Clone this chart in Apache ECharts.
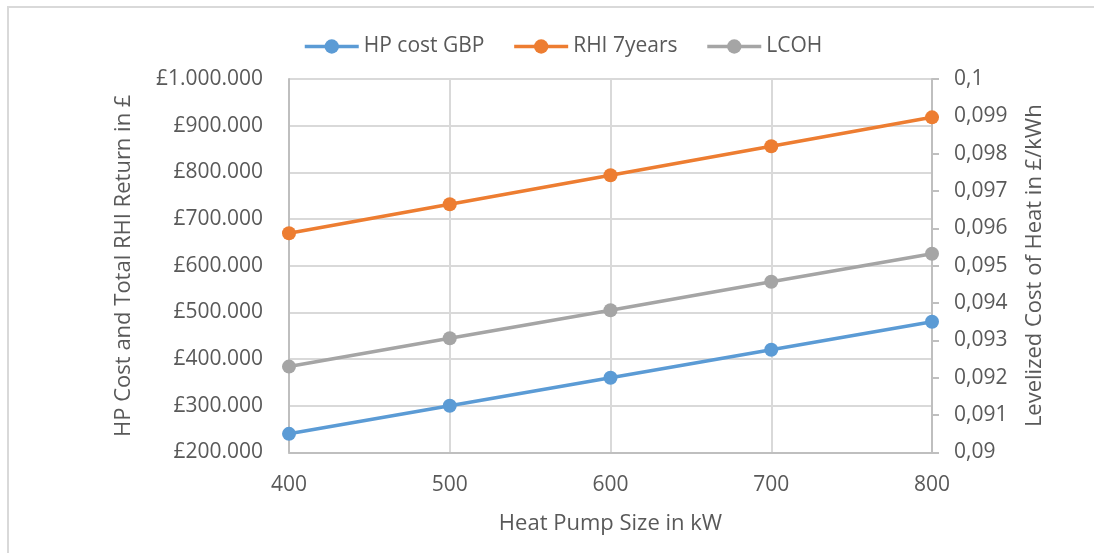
<!DOCTYPE html>
<html>
<head>
<meta charset="utf-8">
<script src="https://cdn.jsdelivr.net/npm/echarts@6/dist/echarts.min.js"></script>
<style>
  html, body { margin: 0; padding: 0; background: #ffffff; }
  #chart { width: 1094px; height: 553px; }
</style>
</head>
<body>
<div id="chart"></div>
<script>
// Heat pump sizes (kW)
const sizes = [400, 500, 600, 700, 800];
// Heat pump capital cost in GBP
const hpCost = [240000, 300000, 360000, 420000, 480000];
// Total RHI return over 7 years in GBP
const rhi7years = [669500, 731600, 793700, 855800, 917900];
// Levelized cost of heat in £/kWh
const lcoh = [0.0923, 0.09306, 0.09381, 0.09457, 0.09532];

const seriesNames = ['HP cost GBP', 'RHI 7years', 'LCOH'];
const seriesColors = ['#5B9BD5', '#ED7D31', '#A5A5A5'];

const FONT = 'Open Sans';
const TXT = '#595959';

const pair = (xs, ys) => xs.map((x, i) => [x, ys[i]]);

function fmtPounds(v) {
  return '£' + Math.round(v).toString().replace(/\B(?=(\d{3})+(?!\d))/g, '.');
}
function fmtComma(v) {
  return (Math.round(v * 1000) / 1000).toString().replace('.', ',');
}

const chart = echarts.init(document.getElementById('chart'), null, { renderer: 'canvas' });

const lineSeries = (idx, data, yAxisIndex) => ({
  name: seriesNames[idx],
  type: 'line',
  yAxisIndex,
  data,
  symbol: 'circle',
  symbolSize: 14,
  itemStyle: { color: seriesColors[idx] },
  lineStyle: { color: seriesColors[idx], width: 3.5 },
  emphasis: { disabled: true },
  animation: false
});

chart.setOption({
  backgroundColor: '#ffffff',
  animation: false,
  textStyle: { fontFamily: FONT },
  graphic: [{
    type: 'rect',
    shape: { x: 8, y: 7, width: 1200, height: 700 },
    style: { fill: 'none', stroke: '#d9d9d9', lineWidth: 2 },
    silent: true
  }],
  legend: {
    top: 31,
    left: 298,
    itemWidth: 54,
    itemHeight: 18,
    itemGap: 28,
    lineStyle: { width: 3.5 },
    textStyle: { fontFamily: FONT, fontSize: 21, color: TXT },
    data: seriesNames
  },
  grid: { left: 289, right: 162, top: 79, bottom: 100.5, containLabel: false },
  xAxis: {
    type: 'value',
    min: 400,
    max: 800,
    interval: 100,
    name: 'Heat Pump Size in kW',
    nameLocation: 'middle',
    nameGap: 60,
    nameTextStyle: { fontFamily: FONT, fontSize: 22, color: TXT },
    axisLine: { show: true, lineStyle: { color: '#bfbfbf', width: 2 } },
    axisTick: { show: false },
    axisLabel: { fontFamily: FONT, fontSize: 21, color: TXT, margin: 22 },
    splitLine: { show: true, lineStyle: { color: '#d9d9d9', width: 2 } }
  },
  yAxis: [{
    type: 'value',
    position: 'left',
    min: 200000,
    max: 1000000,
    interval: 100000,
    name: 'HP Cost and Total RHI Return in £',
    nameLocation: 'middle',
    nameGap: 154,
    nameRotate: 90,
    nameTextStyle: { fontFamily: FONT, fontSize: 22, color: TXT },
    axisLine: { show: true, lineStyle: { color: '#bfbfbf', width: 2 } },
    axisTick: { show: false },
    axisLabel: { fontFamily: FONT, fontSize: 21, color: TXT, margin: 26, formatter: fmtPounds },
    splitLine: { show: true, lineStyle: { color: '#d9d9d9', width: 2 } }
  }, {
    type: 'value',
    position: 'right',
    min: 0.09,
    max: 0.1,
    interval: 0.001,
    name: 'Levelized Cost of Heat in £/kWh',
    nameLocation: 'middle',
    nameGap: 92,
    nameRotate: 90,
    nameTextStyle: { fontFamily: FONT, fontSize: 22, color: TXT },
    axisLine: { show: true, lineStyle: { color: '#bfbfbf', width: 2 } },
    axisTick: { show: true, inside: false, length: 7, lineStyle: { color: '#bfbfbf', width: 2 } },
    axisLabel: { fontFamily: FONT, fontSize: 21, color: TXT, margin: 22, formatter: fmtComma },
    splitLine: { show: false }
  }],
  series: [
    lineSeries(0, pair(sizes, hpCost), 0),
    lineSeries(1, pair(sizes, rhi7years), 0),
    lineSeries(2, pair(sizes, lcoh), 1)
  ]
});
</script>
</body>
</html>
